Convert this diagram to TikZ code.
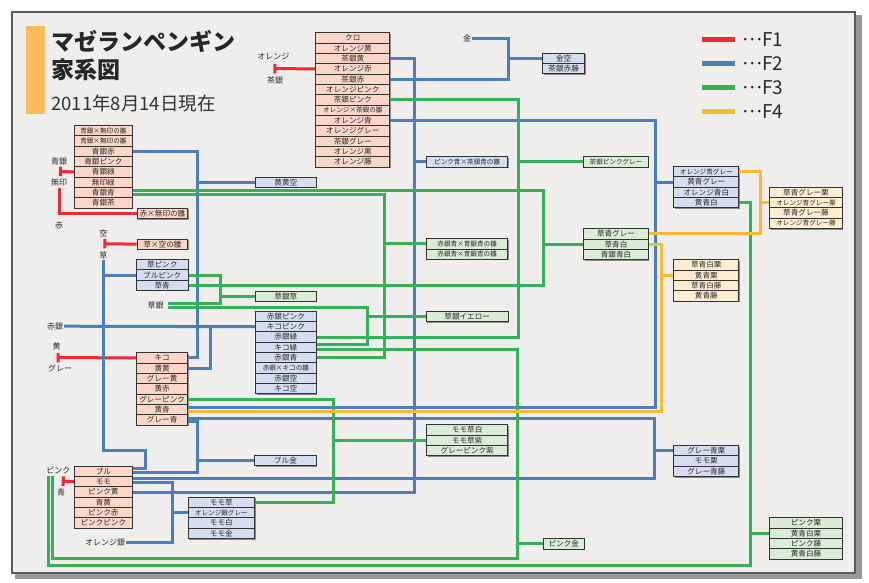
\documentclass[tikz,border=0pt]{standalone}
\usepackage{fontspec}
\setmainfont{Noto Sans CJK JP}
\usetikzlibrary{arrows.meta,shadows}
\definecolor{fOne}{HTML}{EC2A33}
\definecolor{fTwo}{HTML}{4A7EBE}
\definecolor{fThree}{HTML}{37B05A}
\definecolor{fFour}{HTML}{FCB935}
\definecolor{pinkbox}{HTML}{FCD6C8}
\definecolor{bluebox}{HTML}{D5DDF0}
\definecolor{greenbox}{HTML}{D9ECD6}
\definecolor{creambox}{HTML}{FEEDD0}
\definecolor{panel}{HTML}{EFEEEC}
\definecolor{titlebar}{HTML}{FDBA5C}
\definecolor{boxline}{HTML}{333333}
\definecolor{txt}{HTML}{2B2B2B}
\newcommand{\sm}{\fontsize{6.6}{7}\selectfont}
\newcommand{\famstack}[6]{%
  \foreach \t [count=\i from 0] in {#6}{%
    \node[row, fill=#5, minimum width=#4pt] (#1\i) at (#2,{#3+\i*10.33}) {\t};}}

\begin{document}
\begin{tikzpicture}[x=1pt,y=-1pt,
  row/.style={draw=boxline, line width=1pt, inner sep=0pt, minimum height=10.33pt, anchor=north west,
    font=\fontsize{7.6}{8}\selectfont, text=txt,
    drop shadow={shadow xshift=1pt, shadow yshift=-1pt, fill=black!45, opacity=1}},
  tag/.style={font=\fontsize{8}{8}\selectfont, text=txt, inner sep=1pt},
  f1/.style={draw=fOne, line width=3pt},
  f2/.style={draw=fTwo, line width=3pt},
  f3/.style={draw=fThree, line width=3pt},
  f4/.style={draw=fFour, line width=3pt},
  pair/.style={{Bar[width=9.5pt]}-}
]
\useasboundingbox (0,0) rectangle (869,582);
\fill[white] (0,0) rectangle (869,582);
\fill[black!40] (15,15) rectangle (862,579);
\fill[panel, draw=black!65, line width=1.5pt] (12,12) rectangle (855,573);

\fill[titlebar] (26,26) rectangle (45,114.3);
\node[anchor=west, inner sep=0pt, font=\fontsize{23}{23}\bfseries, text=black!85] (title) at (51,41.7) {マゼランペンギン};
\node[anchor=west, inner sep=0pt, font=\fontsize{23}{23}\bfseries, text=black!85] (title2) at (51,70) {家系図};
\node[anchor=west, inner sep=0pt, font=\fontsize{18.5}{19}\selectfont, text=black!80] (date) at (51,103.3) {2011年8月14日現在};

\foreach \c/\f [count=\k from 0] in {fOne/F1,fTwo/F2,fThree/F3,fFour/F4}{
  \draw[draw=\c, line width=5pt] (701.7,{39.3+\k*24.1}) -- (735,{39.3+\k*24.1});
  \node[anchor=west, inner sep=0pt, font=\fontsize{19}{19}\selectfont, text=txt] (leg\k) at (741,{39.3+\k*24.1}) {\kern-1pt·\kern-3.6pt·\kern-3.6pt·\kern-2.6pt\f};
}

\famstack{oc}{315.3}{32.3}{74}{pinkbox}{クロ,オレンジ黄,茶銀黄,オレンジ赤,茶銀赤,オレンジピンク,茶銀ピンク,{\sm オレンジ×茶銀の雛},オレンジ青,オレンジグレー,茶銀グレー,オレンジ黒,オレンジ藤}
\famstack{ks}{542.3}{52.7}{41.7}{bluebox}{金空,茶銀赤藤}
\famstack{am}{74}{125}{57.7}{pinkbox}{{\sm 青銀×無印の雛},{\sm 青銀×無印の雛},青銀赤,青銀ピンク,青銀緑,無印緑,青銀青,青銀茶}
\famstack{akm}{136.7}{207.7}{50.6}{pinkbox}{赤×無印の雛}
\famstack{ksr}{136.7}{238.5}{50.6}{pinkbox}{草×空の雛}
\famstack{kp}{135.7}{259}{52}{bluebox}{草ピンク,ブルピンク,草青}
\famstack{kks}{255}{176.5}{60.7}{bluebox}{黄黄空}
\famstack{kgk}{255}{290.5}{60.7}{greenbox}{草銀草}
\famstack{rk}{255}{310.7}{60.7}{bluebox}{赤銀ピンク,キコピンク,赤銀緑,キコ緑,赤銀青,{\sm 赤銀×キコの雛},赤銀空,キコ空}
\famstack{ph}{426}{156.3}{81.3}{bluebox}{{\sm ピンク青×茶銀青の雛}}
\famstack{cpg}{583.3}{156.3}{64.4}{greenbox}{{\sm 茶銀ピンクグレー}}
\famstack{aa}{426}{238.3}{81.3}{greenbox}{{\sm 赤銀青×青銀青の雛},{\sm 赤銀青×青銀青の雛}}
\famstack{kg}{583.3}{228.3}{64.4}{greenbox}{草青グレー,草青白,青銀青白}
\famstack{og}{673.3}{166}{65}{bluebox}{{\sm オレンジ青グレー},黄青グレー,オレンジ青白,黄青白}
\famstack{kgr}{769.3}{186.7}{72.4}{creambox}{草青グレー栗,{\sm オレンジ青グレー栗},草青グレー藤,{\sm オレンジ青グレー藤}}
\famstack{kh}{673.3}{259.3}{65}{creambox}{草青白栗,黄青栗,草青白藤,黄青藤}
\famstack{kgy}{425.7}{311}{82}{greenbox}{草銀イエロー}
\famstack{kc}{136}{352.3}{51.3}{pinkbox}{キコ,黄黄,グレー黄,黄赤,グレーピンク,黄青,グレー青}
\famstack{ms}{426}{424.3}{81.3}{greenbox}{モモ草白,モモ草紫,グレーピンク紫}
\famstack{gak}{673.3}{445}{65}{bluebox}{グレー青栗,モモ栗,グレー青藤}
\famstack{bk}{254.3}{455}{61.4}{bluebox}{ブル金}
\famstack{bu}{74}{465.7}{57.7}{pinkbox}{ブル,モモ,ピンク黄,青黄,ピンク赤,ピンクピンク}
\famstack{mk}{187.7}{496.7}{66.3}{bluebox}{モモ草,{\sm オレンジ銀グレー},モモ白,モモ金}
\famstack{pkn}{542.7}{538.3}{41}{greenbox}{ピンク金}
\famstack{pku}{769.3}{517.3}{72.4}{greenbox}{ピンク栗,黄青白栗,ピンク藤,黄青白藤}

\node[tag] (lOrange) at (273.3,56.7) {オレンジ};
\node[tag] (lChagin) at (275,80) {茶銀};
\node[tag] (lKin) at (467,38) {金};
\node[tag] (lAogin) at (59,161.7) {青銀};
\node[tag] (lMuin) at (59,182.7) {無印};
\node[tag] (lAka) at (59,225) {赤};
\node[tag] (lSora) at (103.3,233.3) {空};
\node[tag] (lKusa) at (103.3,255) {草};
\node[tag] (lKusagin) at (155.7,305.7) {草銀};
\node[tag] (lAkagin) at (55,326.2) {赤銀};
\node[tag] (lKi) at (56.7,346.7) {黄};
\node[tag] (lGray) at (60,368.3) {グレー};
\node[tag] (lPink) at (58.3,470.7) {ピンク};
\node[tag] (lAo) at (61,492.7) {青};
\node[tag] (lOrgin) at (105,542.3) {オレンジ銀};

\foreach \x in {414,508,655,197,210,654,172,518,543,384,220,367,517,750,333,760,661}
  \coordinate (t\x) at (\x,0);
\coordinate (yb558) at (0,558.3);
\coordinate (yb565) at (0,565);
\coordinate (jogBu) at (145,450);
\coordinate (pinkIn) at (52.3,475.5);
\coordinate (pinkOut) at (48.3,475.5);
\coordinate (barOrange) at (273.3,68.5);
\coordinate (barAogin) at (59,171.4);
\coordinate (barSora) at (103.3,243.7);
\coordinate (barKi) at (56.7,357.5);
\coordinate (barPink) at (61.7,481.1);
\coordinate (kc5a) at ([yshift=2.2pt]kc5.east);
\coordinate (kc5b) at ([yshift=-2.1pt]kc5.east);
\coordinate (kc6a) at ([yshift=1.9pt]kc6.east);
\coordinate (kc6b) at ([yshift=-1.8pt]kc6.east);
\coordinate (bu0a) at ([yshift=2.5pt]bu0.east);
\coordinate (bu0b) at ([yshift=-1.5pt]bu0.east);
\coordinate (bu1a) at ([yshift=2.8pt]bu1.east);
\coordinate (bu1b) at ([yshift=-1.2pt]bu1.east);
\coordinate (am6a) at ([yshift=2pt]am6.east);
\coordinate (am6b) at ([yshift=-2pt]am6.east);
\coordinate (rk3a) at ([yshift=2.8pt]rk3.east);
\coordinate (rk3b) at ([yshift=-2.5pt]rk3.east);
\coordinate (ksgA) at ([xshift=3pt,yshift=2pt]lKusagin.east);
\coordinate (ksgB) at ([xshift=3pt,yshift=-2pt]lKusagin.east);

\draw[f1,pair] (barOrange) -- (oc3.west);
\draw[f1,pair] (barAogin) -- (am4.west);
\draw[f1] (lMuin.south) |- (akm0.west);
\draw[f1,pair] (barSora) -- (ksr0.west);
\draw[f1,pair] (barKi) -- (kc0.west);
\draw[f1,pair] (barPink) -- (bu1.west);

\draw[f2] (oc2.east) -| (t414 |- bu2.east) -- (bu2.east);
\draw[f2] (t414 |- ph0.west) -- (ph0.west);
\draw[f2] (oc4.east) -| (t508 |- lKin.east) -- (lKin.east);
\draw[f2] (t508 |- ks0.west) -- (ks0.west);
\draw[f2] (oc8.east) -| (t655 |- kc5a) -- (kc5a);
\draw[f2] (t655 |- og1.west) -- (og1.west);
\draw[f2] (am2.east) -| (t197 |- kc0.east) -- (kc0.east);
\draw[f2] (t197 |- kks0.west) -- (kks0.west);
\draw[f2] (lAkagin.east) -- (rk1.west);
\draw[f2] (kc1.east) -| (t210 |- rk1.west);
\draw[f2] (lKusa.south) |- (jogBu) |- (bu0a);
\draw[f2] (lKusa.south |- kp1.west) -- (kp1.west);
\draw[f2] (kc6b) -| (t197 |- bu0b) -- (bu0b);
\draw[f2] (t197 |- bk0.west) -- (bk0.west);
\draw[f2] (kc6a) -| (t654 |- bu1a) -- (bu1a);
\draw[f2] (t654 |- gak0.west) -- (gak0.west);
\draw[f2] (bu1b) -| (t172 |- lOrgin.east) -- (lOrgin.east);
\draw[f2] (t172 |- mk1.west) -- (mk1.west);

\draw[f3] (oc6.east) -| (t518 |- rk2.east) -- (rk2.east);
\draw[f3] (t518 |- cpg0.west) -- (cpg0.west);
\draw[f3] (am6a) -| (t543 |- kp2.east) -- (kp2.east);
\draw[f3] (t543 |- kg1.west) -- (kg1.west);
\draw[f3] (am6b) -| (t384 |- rk4.east) -- (rk4.east);
\draw[f3] (t384 |- aa0.west) -- (aa0.west);
\draw[f3] (kp1.east) -| (t220 |- ksgA) -- (ksgA);
\draw[f3] (t220 |- kgk0.west) -- (kgk0.west);
\draw[f3] (ksgB) -| (t367 |- rk3a) -- (rk3a);
\draw[f3] (t367 |- kgy0.west) -- (kgy0.west);
\draw[f3] (rk3b) -| (t517 |- yb558) -| (pinkIn);
\draw[f3] (t517 |- pkn0.west) -- (pkn0.west);
\draw[f3] (og3.east) -| (t750 |- yb565) -| (pinkOut);
\draw[f3] (t750 |- pku1.west) -- (pku1.west);
\draw[f3] (kc4.east) -| (t333 |- mk0.east) -- (mk0.east);
\draw[f3] (t333 |- ms1.west) -- (ms1.west);

\draw[f4] (og0.east) -| (t760 |- kg0.east) -- (kg0.east);
\draw[f4] (t760 |- kgr1.west) -- (kgr1.west);
\draw[f4] (kg1.east) -| (t661 |- kc5b) -- (kc5b);
\draw[f4] (t661 |- kh1.west) -- (kh1.west);
\end{tikzpicture}
\end{document}
